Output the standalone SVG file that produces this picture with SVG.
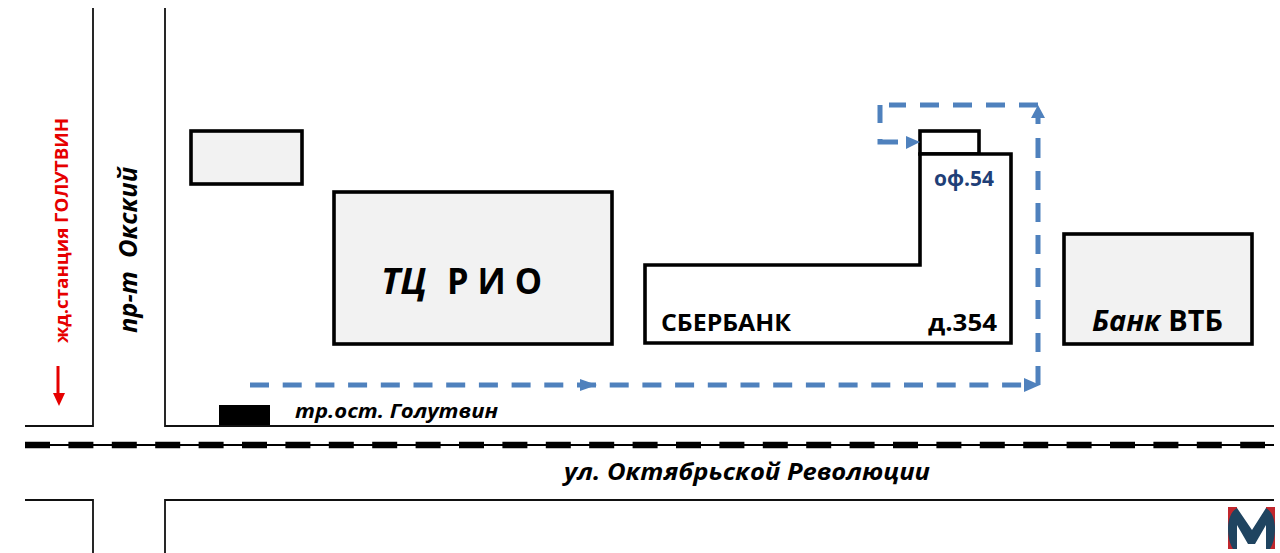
<svg xmlns="http://www.w3.org/2000/svg" width="1280" height="553" viewBox="0 0 1280 553">
<style>
text{font-family:"Open Sans","Noto Sans","Liberation Sans",sans-serif;font-weight:700;fill:#000}
.i{font-style:italic}
.road{fill:none;stroke:#111;stroke-width:1.8}
.bld{fill:#f2f2f2;stroke:#000;stroke-width:3.6}
.out{fill:#fff;stroke:#000;stroke-width:3.6}
.route{fill:none;stroke:#4f81bd;stroke-width:5}
.rh{fill:#4f81bd}
</style>
<rect width="1280" height="553" fill="#fff"/>
<g id="roads">
<path class="road" d="M93 8V426H25"/>
<path class="road" d="M165 8V426H1274"/>
<path class="road" d="M25 500H93V553"/>
<path class="road" d="M165 553V500H1274"/>
<path d="M25 445H1274" fill="none" stroke="#000" stroke-width="2"/>
<path d="M25 445H1265" fill="none" stroke="#000" stroke-width="6.5" stroke-dasharray="25 18.4"/>
</g>
<g id="building-small"><rect class="bld" x="191" y="131" width="111" height="53"/></g>
<g id="tc-rio"><rect class="bld" x="334" y="192" width="278" height="152"/>
<text class="i" x="381" y="294" font-size="36" textLength="46" lengthAdjust="spacingAndGlyphs">ТЦ</text><text x="447" y="294" font-size="36" textLength="95" lengthAdjust="spacingAndGlyphs">Р И О</text></g>
<g id="sberbank">
<rect class="out" x="920" y="131" width="59" height="23"/>
<path class="out" d="M645 265H920V154H1011V343H645Z"/>
<text x="661" y="331" font-size="24" textLength="130" lengthAdjust="spacingAndGlyphs">СБЕРБАНК</text>
<text x="928" y="331" font-size="24" textLength="69" lengthAdjust="spacingAndGlyphs">д.354</text>
<text x="934" y="186" font-size="21" textLength="60" lengthAdjust="spacingAndGlyphs" style="fill:#1f3f77">оф.54</text>
</g>
<g id="bank-vtb"><rect class="bld" x="1064" y="234" width="188" height="110"/>
<text x="1092" y="331" font-size="28" textLength="131" lengthAdjust="spacingAndGlyphs"><tspan class="i">Банк</tspan> ВТБ</text></g>
<g id="bus-stop"><rect x="219" y="405" width="51" height="20" fill="#000"/>
<text class="i" x="295" y="418" font-size="20" textLength="203" lengthAdjust="spacingAndGlyphs">тр.ост. Голутвин</text></g>
<g id="labels">
<text class="i" x="564" y="480" font-size="24" textLength="366" lengthAdjust="spacingAndGlyphs">ул. Октябрьской Революции</text>
<text class="i" transform="translate(137 333) rotate(-90)" font-size="25" textLength="166" lengthAdjust="spacingAndGlyphs" xml:space="preserve">пр-т  Окский</text>
<text transform="translate(68 343) rotate(-90)" font-size="18" textLength="225" lengthAdjust="spacingAndGlyphs" style="fill:#e60000">жд.станция ГОЛУТВИН</text>
</g>
<g id="connectors">
<path class="route" d="M250 385H1022" stroke-dasharray="19 13.7"/>
<path class="route" d="M1038 385V366M1038 352V333M1038 319V300M1038 287V268M1038 254V235M1038 222V203M1038 190V171M1038 158V138M1038 124V118"/>
<path class="route" d="M1038 105H889" stroke-dasharray="19 14"/>
<path class="route" d="M880 105V123M880 139V142H898"/>
<polygon class="rh" points="580,379 597,385 580,391"/>
<polygon class="rh" points="1024,378 1040,385 1024,392"/>
<polygon class="rh" points="1031,118 1038,105 1045,118"/>
<polygon class="rh" points="906,136 920,142 906,149"/>
<path d="M58 366V394" fill="none" stroke="#e60000" stroke-width="3"/>
<polygon points="53,393 65,393 59,406" fill="#e60000"/>
</g>
<g id="logo">
<path d="M1228 507H1237V549H1228ZM1266 507H1275V549H1266Z" fill="#c1272d"/>
<path d="M1237 508L1252 530L1266 508C1272 511 1275 520 1275 528C1275 538 1273 544 1270 549H1266V525L1255 544H1248L1237 525V549H1233C1230 544 1228 538 1228 528C1228 520 1231 511 1237 508Z" fill="#1f4460"/>
</g>
</svg>
